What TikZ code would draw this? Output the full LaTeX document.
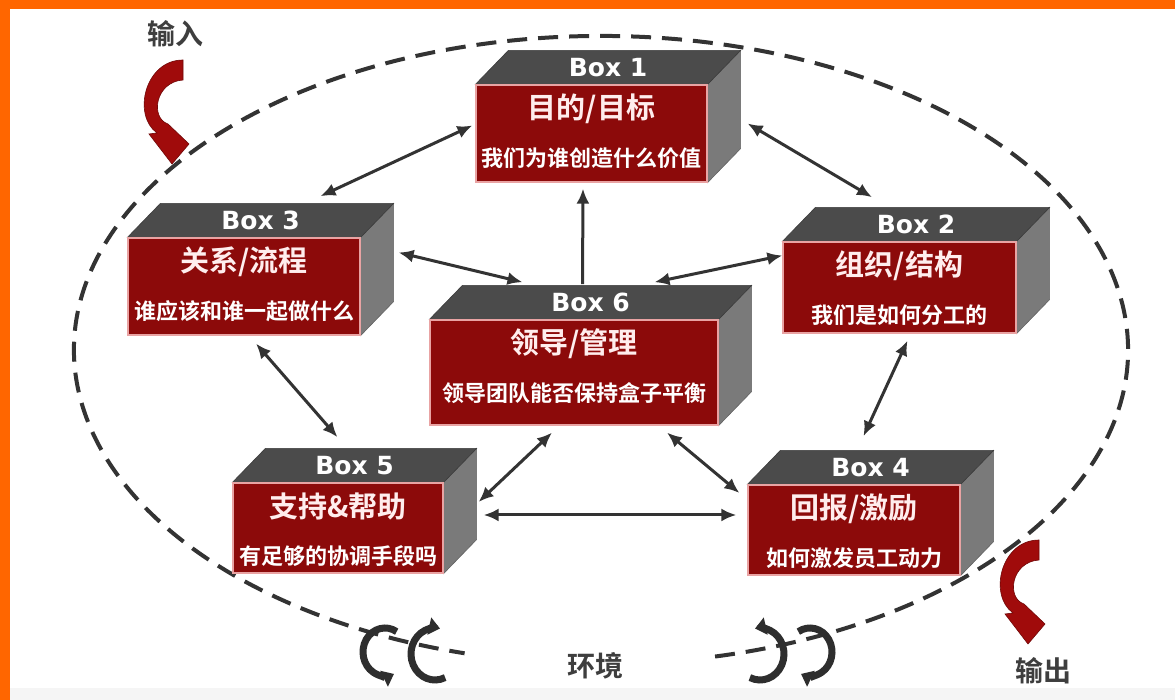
\documentclass[tikz,border=0pt]{standalone}
\usepackage{fontspec}
\usepackage{tikz}
\usetikzlibrary{arrows.meta, calc}
\newfontfamily\cjk{Noto Sans CJK SC}[BoldFont={Noto Sans CJK SC Bold}]
\newfontfamily\tagfont{DejaVu Sans}
\definecolor{box_red}{HTML}{8C0A0A}
\colorlet{boxred}{box_red}
\definecolor{boxrim}{HTML}{E9A3A3}
\definecolor{boxtopgray}{HTML}{4B4B4B}
\definecolor{boxsidegray}{HTML}{7A7A7A}
\definecolor{titlepink}{HTML}{FFEDED}
\definecolor{linkgray}{HTML}{333333}
\definecolor{turngray}{HTML}{2E2E2E}
\definecolor{arrowred}{HTML}{A00B0B}
\definecolor{captiongray}{HTML}{3E3E3E}
\definecolor{frameorange}{HTML}{FF6600}
\definecolor{bandgray}{HTML}{F5F5F5}
\tikzset{
  boxfront/.style={rectangle,draw=boxrim,line width=1.2pt,fill=boxred,inner sep=0pt},
  boxtop/.style={fill=boxtopgray,draw=boxtopgray!80!black,line width=.6pt},
  boxside/.style={fill=boxsidegray,draw=boxsidegray!80!black,line width=.6pt},
  boxtag/.style={text=white,font=\tagfont\bfseries\fontsize{25}{25}\selectfont,inner sep=0pt,minimum height=34pt},
  boxtitle/.style={text=titlepink,font=\cjk\bfseries\fontsize{29}{29}\selectfont,inner sep=0pt},
  boxnote/.style={text=white,font=\cjk\bfseries\fontsize{22}{22}\selectfont,inner sep=0pt},
  link/.style={line width=3pt,draw=linkgray,{Latex[length=15pt,width=13pt]}-{Latex[length=15pt,width=13pt]}},
  linkup/.style={link,-{Latex[length=15pt,width=13pt]}},
  envline/.style={draw=linkgray,line width=4pt,dash pattern=on 20pt off 11pt},
  turn/.style={draw=turngray,line width=7pt,-{Triangle[length=11pt,width=17pt]}},
  flow/.style={fill=arrowred,draw=arrowred!70!black,line width=.6pt},
  caption/.style={text=captiongray,font=\cjk\bfseries\fontsize{28}{28}\selectfont,inner sep=0pt},
  redturn/.pic={
    \fill[flow] (0,0) .. controls (-38,0) and (-51,-55) .. (-26,-73) -- (-34,-74) -- (-11,-104)
      -- (6,-84) -- (-15,-64) .. controls (-33,-58) and (-28,-22) .. (0,-20) -- cycle;
  },
}
\pgfdeclarelayer{back}
\pgfsetlayers{back,main}
% #1 name, #2 #3 front centre, #4 width, #5 height, #6 tag, #7 title, #8 note
\newcommand{\boxcube}[8]{%
  \node[boxfront,minimum width=#4,minimum height=#5] (#1) at (#2,#3) {};
  \begin{pgfonlayer}{back}
    \path[boxside] (#1.north east) -- ++(33,34) -- ([shift={(33,34)}]#1.south east) -- (#1.south east) -- cycle;
    \path[boxtop] (#1.north west) -- ++(33,34) -- ([shift={(33,34)}]#1.north east) -- (#1.north east) -- cycle;
  \end{pgfonlayer}
  \node[boxtag,minimum width=#4] (#1t) at ([shift={(16.5,17)}]#1.north) {#6};
  \node[boxtitle] (#1a) at ([yshift=-24]#1.north) {#7};
  \node[boxnote] (#1b) at ([yshift=-74]#1.north) {#8};
}

\begin{document}
\begin{tikzpicture}[x=1pt,y=1pt]
  \useasboundingbox (0,0) rectangle (1175,700);

  % frame and environment
  \begin{pgfonlayer}{back}
    \fill[white] (0,0) rectangle (1175,700);
    \fill[bandgray] (10,0) rectangle (1175,12);
    \fill[frameorange] (0,691) rectangle (1175,700);
    \fill[frameorange] (0,0) rectangle (10,700);
    \draw[envline] (601,350) ++(282.5:527 and 314) arc[start angle=282.5, end angle=615, x radius=527, y radius=314];
  \end{pgfonlayer}

  \boxcube{b1}{591.5}{566.5}{231}{97}{Box 1}{目的/目标}{我们为谁创造什么价值}
  \boxcube{b2}{899.5}{412.5}{233}{91}{Box 2}{组织/结构}{我们是如何分工的}
  \boxcube{b3}{244}{413.5}{232}{97}{Box 3}{关系/流程}{谁应该和谁一起做什么}
  \boxcube{b6}{574}{327.5}{288}{105}{Box 6}{领导/管理}{领导团队能否保持盒子平衡}
  \boxcube{b5}{338}{172}{210}{90}{Box 5}{支持\&帮助}{有足够的协调手段吗}
  \boxcube{b4}{854}{170}{212}{90}{Box 4}{回报/激励}{如何激发员工动力}

  \draw[link] ($(b3t.north)+(60,7)$) -- ($(b1.west)+(-3,8)$);
  \draw[link] ($(b1.east)+(40,10)$) -- ($(b2t.north)+(-44,10)$);
  \draw[linkup] ($(b6t.north)+(-8,1)$) -- ($(b1.south)+(-8.5,-6)$);
  \draw[link] ($(b3.east)+(38,34)$) -- ($(b6t.north)+(-68,3)$);
  \draw[link] ($(b6t.north)+(64,3)$) -- ($(b2.west)+(0,32)$);
  \draw[link] ($(b3.south)+(12,-8)$) -- ($(b5t.north)+(-17,11)$);
  \draw[link] ($(b2.south)+(8,-7)$) -- ($(b4t.north)+(-7,14)$);
  \draw[link] ($(b6.south)+(-22,-7)$) -- ($(b5.east)+(35,26)$);
  \draw[link] ($(b6.south)+(93,-7)$) -- ($(b4.west)+(-8,37)$);
  \draw[link] ($(b5.east)+(40,13)$) -- ($(b4.west)+(-11,15)$);

  % input / output
  \node[caption] (input) at (175,666) {输入};
  \begin{scope}[shift={(183,640)}]
    \pic {redturn};
  \end{scope}
  \node[caption] (output) at (1043,29) {输出};
  \begin{scope}[shift={(1039,160)},xscale=-0.75]
    \pic {redturn};
  \end{scope}

  % turning arrows round the environment line
  \node[caption] (env) at (595,34) {环境};
  \draw[turn] (385,48) ++(58:22 and 24) arc[start angle=58, end angle=294, x radius=22, y radius=24];
  \draw[turn] (435,46) ++(295:24 and 26) arc[start angle=295, end angle=78, x radius=24, y radius=26];
  \begin{scope}[xshift=1195,xscale=-1]
    \draw[turn] (385,48) ++(58:22 and 24) arc[start angle=58, end angle=294, x radius=22, y radius=24];
    \draw[turn] (435,46) ++(295:24 and 26) arc[start angle=295, end angle=78, x radius=24, y radius=26];
  \end{scope}
\end{tikzpicture}
\end{document}
